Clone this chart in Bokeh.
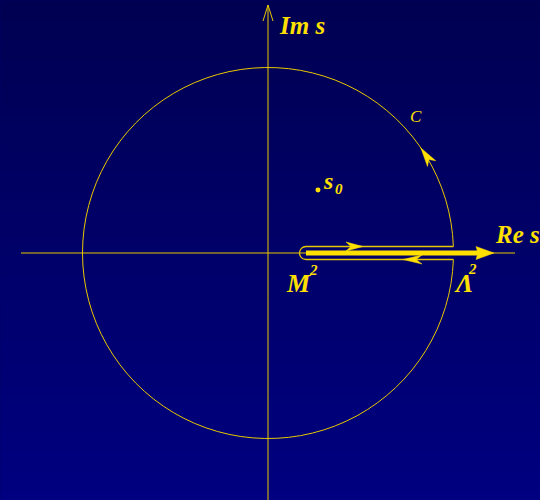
import numpy as np
from bokeh.plotting import figure
from bokeh.models import Range1d
from bokeh.core.properties import value
from bokeh.embed import file_html
from bokeh.resources import INLINE

# ---- data (math coordinates, origin at s = 0) ----
circle_center = (0.0, 0.0)
circle_radius = 185.5
cut_halfwidth = 6.5
m2_pos = 38.0          # branch point M^2 on the real axis
lambda2_pos = 185.4    # cut end Lambda^2 (on the circle)
s0_point = (50.0, 63.0)
re_axis = (-247.0, 247.0)
im_axis = (-247.0, 248.0)
cut_arrow_tip = 226.0

labels = ["Im s", "Re s", "M", "\u039b", "s", "C"]
label_x = [12, 228, 19, 188, 56, 142]
label_y = [228, 19, -30, -30, 72, 137]
sup_text = ["2", "2", "0"]
sup_x = [42, 201, 67]
sup_y = [-17, -16, 64]

YEL = "#FFE000"
LINE = "#E8C800"
FONT = value("Liberation Serif")

W, H = 540, 500
OX, OY = 267.5, 252.5   # pixel position of the origin

p = figure(width=W, height=H, output_backend="svg", toolbar_location=None,
           x_range=Range1d(-OX, W - OX), y_range=Range1d(OY - H, OY),
           x_axis_type=None, y_axis_type=None, min_border=0)
p.grid.visible = False
p.outline_line_color = None
p.border_fill_color = "#000068"
p.background_fill_color = "#000068"

# background gradient as a single image
nb = 100
img = np.zeros((nb, 1), dtype=np.uint32)
view = img.view(dtype=np.uint8).reshape((nb, 1, 4))
for i in range(nb):
    t = i / (nb - 1)          # row 0 = bottom
    view[i, 0, 0] = 0
    view[i, 0, 1] = 0
    view[i, 0, 2] = int(round(128 - t * 46))
    view[i, 0, 3] = 255
p.image_rgba(image=[img], x=-OX, y=OY - H, dw=W, dh=H)

# axes
p.line([re_axis[0], re_axis[1]], [0, 0], line_color=LINE, line_width=1)
p.line([0, 0], [im_axis[0], im_axis[1]], line_color=LINE, line_width=1)
p.line([-5, 0, 5], [im_axis[1] - 16, im_axis[1], im_axis[1] - 16], line_color=LINE, line_width=1)

# big circle with gap at the cut
th0 = np.arcsin(cut_halfwidth / circle_radius)
p.arc(x=circle_center[0], y=circle_center[1], radius=circle_radius,
      start_angle=th0, end_angle=2 * np.pi - th0, direction="anticlock",
      line_color=LINE, line_width=1)

# keyhole contour
p.line([m2_pos, lambda2_pos], [cut_halfwidth, cut_halfwidth], line_color=LINE, line_width=1.3)
p.line([m2_pos, lambda2_pos], [-cut_halfwidth, -cut_halfwidth], line_color=LINE, line_width=1.3)
p.arc(x=m2_pos, y=0, radius=cut_halfwidth, start_angle=np.pi / 2, end_angle=3 * np.pi / 2,
      direction="anticlock", line_color=LINE, line_width=1.3)

# thick cut arrow
p.line([m2_pos, cut_arrow_tip - 15], [0, 0], line_color=YEL, line_width=5)


def head(tx, ty, dx, dy, L, w, n):
    d = np.array([dx, dy], float)
    d /= np.hypot(*d)
    q = np.array([-d[1], d[0]])
    t = np.array([tx, ty], float)
    pts = [t, t - L * d + w * q, t - n * d, t - L * d - w * q]
    return [pt[0] for pt in pts], [pt[1] for pt in pts]


heads = [head(cut_arrow_tip, 0, 1, 0, 18, 6.5, 16),
         head(95, cut_halfwidth, 1, 0, 17, 4.5, 12),
         head(135, -cut_halfwidth, -1, 0, 19, 4.5, 13)]
ang = np.deg2rad(34.5)
heads.append(head(circle_radius * np.cos(ang), circle_radius * np.sin(ang),
                  -np.sin(ang), np.cos(ang), 19, 5, 14))
p.patches([h[0] for h in heads], [h[1] for h in heads], fill_color=YEL, line_color=YEL, line_width=0.5)

# s0 point
p.scatter([s0_point[0]], [s0_point[1]], size=5, fill_color=YEL, line_color=None)

# labels
sizes = ["25px", "25px", "26px", "26px", "24px", "17px"]
styles = ["bold italic"] * 5 + ["italic"]
for t, x, y, s, st in zip(labels, label_x, label_y, sizes, styles):
    p.text(x=[x], y=[y], text=[t], text_font=FONT, text_font_size=s, text_font_style=st,
           text_color=YEL, text_baseline="alphabetic", text_align="left")
p.text(x=sup_x, y=sup_y, text=sup_text, text_font=FONT, text_font_size="15px",
       text_font_style="bold italic", text_color=YEL, text_baseline="alphabetic", text_align="left")

html = file_html(p, INLINE)
html = html.replace("</head>", "<style>html{min-height:100%;background:linear-gradient(#000050,#000080);}</style></head>", 1)
open("out.html", "w").write(html)
